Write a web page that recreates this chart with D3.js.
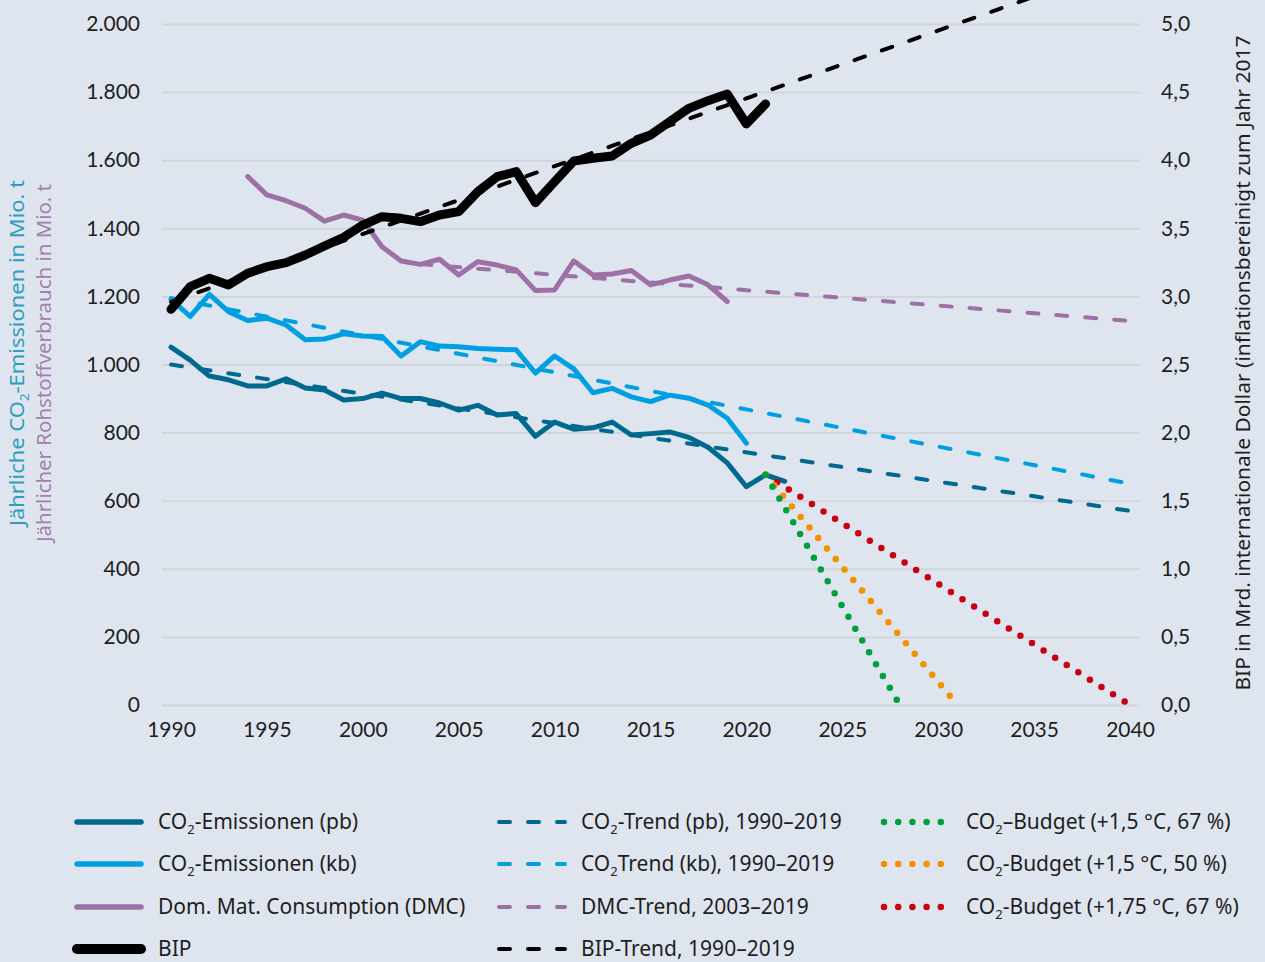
<!DOCTYPE html>
<html><head><meta charset="utf-8">
<script src="https://cdn.jsdelivr.net/npm/d3@7"></script>
<style>
html,body{margin:0;padding:0;background:#dfe5ef;}
svg{display:block;}
</style></head>
<body><svg id="c" width="1265" height="962"></svg>
<script>
// ---- data ----
const years = d3.range(1990, 2023);
const co2pb = [1051,1013,966,955,937,937,958,931,925,896,900,916,900,900,887,866,880,852,856,789,831,810,814,831,793,797,802,786,757,711,641,676,657];
const co2kbYears = d3.range(1990, 2021);
const co2kb = [1192,1141,1206,1155,1129,1136,1116,1073,1075,1090,1084,1082,1025,1067,1054,1052,1047,1045,1043,975,1025,987,917,930,905,891,910,901,881,842,769];
const dmcYears = d3.range(1994, 2020);
const dmc = [1552,1498,1481,1459,1421,1439,1424,1346,1304,1294,1309,1263,1302,1292,1278,1217,1219,1304,1263,1266,1276,1234,1248,1260,1234,1185];
const bipYears = d3.range(1990, 2022);
const bip = [2.905,3.071,3.133,3.084,3.170,3.218,3.248,3.304,3.370,3.434,3.524,3.585,3.573,3.549,3.598,3.622,3.769,3.879,3.916,3.688,3.842,3.994,4.014,4.031,4.124,4.185,4.283,4.381,4.437,4.486,4.266,4.413];

const trendPbYears = [1990, 2040], trendPb = [1000, 570];
const trendKbYears = [1990, 2040], trendKb = [1195, 650];
const trendDmcYears = [2003, 2040], trendDmc = [1295, 1128];
const trendBipYears = [1990, 2040], trendBip = [2.96, 5.45];

const budget15_67Years = [2021, 2028], budget15_67 = [676, 0];
const budget15_50Years = [2021, 2031], budget15_50 = [676, 0];
const budget175_67Years = [2021, 2040], budget175_67 = [676, 0];

const leftTicks = [0,200,400,600,800,1000,1200,1400,1600,1800,2000];
const rightTicks = [0,0.5,1,1.5,2,2.5,3,3.5,4,4.5,5];
const xTicks = [1990,1995,2000,2005,2010,2015,2020,2025,2030,2035,2040];

// ---- setup ----
const de = d3.formatLocale({decimal: ",", thousands: ".", grouping: [3], currency: ["", " €"]});
const fmtL = de.format(",.0f"), fmtR = de.format(".1f");
const svg = d3.select("#c");
const x = d3.scaleLinear().domain([1990, 2040]).range([171, 1130]);
const yL = d3.scaleLinear().domain([0, 2000]).range([705, 24]);
const yR = d3.scaleLinear().domain([0, 5]).range([705, 24]);

const C = {pb:"#00698f", kb:"#009fe3", dmc:"#9d71a6", bip:"#000000", g:"#00a03c", o:"#f39200", r:"#c8000f"};
const tickFont = "Lato, 'Noto Sans', sans-serif";
const txtFont = "'Noto Sans', 'Open Sans', sans-serif";

// grid
const grid = svg.append("g").attr("transform", "translate(162,0)")
  .call(d3.axisLeft(yL).tickValues(leftTicks).tickSize(-978).tickFormat(""));
grid.select(".domain").remove();
grid.selectAll("line").attr("stroke", "#d1d5dc").attr("stroke-width", 2);

// axes
function styleAxis(g){
  g.select(".domain").remove();
  g.selectAll("line").remove();
  g.selectAll("text").attr("font-family", tickFont).attr("font-size", 21).attr("fill", "#1e1e1e");
}
svg.append("g").attr("transform", "translate(162,0)")
  .call(d3.axisLeft(yL).tickValues(leftTicks).tickSize(0).tickPadding(22).tickFormat(fmtL)).call(styleAxis);
svg.append("g").attr("transform", "translate(1140,0)")
  .call(d3.axisRight(yR).tickValues(rightTicks).tickSize(0).tickPadding(21).tickFormat(fmtR)).call(styleAxis);
svg.append("g").attr("transform", "translate(0,705)")
  .call(d3.axisBottom(x).tickValues(xTicks).tickSize(0).tickPadding(17).tickFormat(d3.format("d"))).call(styleAxis);

// axis titles
function co2Text(sel, before, after, size){
  sel.append("tspan").text(before + "CO");
  sel.append("tspan").text("2").attr("font-size", size*0.62).attr("dy", size*0.25);
  sel.append("tspan").text(after).attr("dy", -size*0.25);
}
const t1 = svg.append("text").attr("transform", "translate(24,353) rotate(-90)")
  .attr("text-anchor", "middle").attr("font-family", txtFont).attr("font-size", 19)
  .attr("fill", "#2e9dc0").attr("textLength", 346).attr("lengthAdjust", "spacingAndGlyphs");
co2Text(t1, "Jährliche ", "-Emissionen in Mio. t", 19);
svg.append("text").attr("transform", "translate(51,363) rotate(-90)")
  .attr("text-anchor", "middle").attr("font-family", txtFont).attr("font-size", 19)
  .attr("fill", "#a47fae").attr("textLength", 358).attr("lengthAdjust", "spacingAndGlyphs")
  .text("Jährlicher Rohstoffverbrauch in Mio. t");
svg.append("text").attr("transform", "translate(1250,363) rotate(-90)")
  .attr("text-anchor", "middle").attr("font-family", txtFont).attr("font-size", 19)
  .attr("fill", "#1e1e1e").attr("textLength", 655).attr("lengthAdjust", "spacingAndGlyphs")
  .text("BIP in Mrd. internationale Dollar  (inflationsbereinigt zum Jahr 2017");

// lines
const lineL = d3.line().x(d => x(d[0])).y(d => yL(d[1]));
const lineR = d3.line().x(d => x(d[0])).y(d => yR(d[1]));
const zip = (a, b) => a.map((v, i) => [v, b[i]]);
const dash = "11 18", dots = "0 13.7";

function draw(path, data, color, w, da){
  const p = svg.append("path").datum(data).attr("d", path).attr("fill", "none")
    .attr("stroke", color).attr("stroke-width", w).attr("stroke-linejoin", "round").attr("stroke-linecap", "round");
  if (da) p.attr("stroke-dasharray", da);
  return p;
}
// trends
draw(lineL, zip(trendDmcYears, trendDmc), C.dmc, 4, dash);
draw(lineL, zip(trendKbYears, trendKb), C.kb, 4, dash);
draw(lineL, zip(trendPbYears, trendPb), C.pb, 4, dash);
// series
draw(lineL, zip(dmcYears, dmc), C.dmc, 5);
draw(lineL, zip(co2kbYears, co2kb), C.kb, 5);
draw(lineL, zip(years, co2pb), C.pb, 5);
// budgets
draw(lineL, zip(budget175_67Years, budget175_67), C.r, 6.5, dots);
draw(lineL, zip(budget15_50Years, budget15_50), C.o, 6.5, dots);
draw(lineL, zip(budget15_67Years, budget15_67), C.g, 6.5, dots);
// BIP
draw(lineR, zip(trendBipYears, trendBip), C.bip, 4, dash);
draw(lineR, zip(bipYears, bip), C.bip, 9);

// legend
const legend = [
  {col:0, row:0, color:C.pb, w:5.5, da:null, co2:true, after:"-Emissionen (pb)"},
  {col:0, row:1, color:C.kb, w:5.5, da:null, co2:true, after:"-Emissionen (kb)"},
  {col:0, row:2, color:C.dmc, w:5.5, da:null, co2:false, label:"Dom. Mat. Consumption (DMC)"},
  {col:0, row:3, color:C.bip, w:10, da:null, co2:false, label:"BIP"},
  {col:1, row:0, color:C.pb, w:4, da:dash, co2:true, after:"-Trend (pb), 1990–2019"},
  {col:1, row:1, color:C.kb, w:4, da:dash, co2:true, after:"Trend (kb), 1990–2019"},
  {col:1, row:2, color:C.dmc, w:4, da:dash, co2:false, label:"DMC-Trend, 2003–2019"},
  {col:1, row:3, color:C.bip, w:4, da:dash, co2:false, label:"BIP-Trend, 1990–2019"},
  {col:2, row:0, color:C.g, w:6.5, da:"0 14.2", co2:true, after:"–Budget (+1,5 °C, 67 %)"},
  {col:2, row:1, color:C.o, w:6.5, da:"0 14.2", co2:true, after:"-Budget (+1,5 °C, 50 %)"},
  {col:2, row:2, color:C.r, w:6.5, da:"0 14.2", co2:true, after:"-Budget (+1,75 °C, 67 %)"}
];
const colX = [[77,141,158],[499,565,581],[884,941,966]];
const rowY = [822, 864, 907, 949];
legend.forEach(d => {
  const [x0, x1, tx] = colX[d.col], yy = rowY[d.row];
  const l = svg.append("line").attr("x1", x0).attr("x2", x1).attr("y1", yy).attr("y2", yy)
    .attr("stroke", d.color).attr("stroke-width", d.w).attr("stroke-linecap", "round");
  if (d.da) l.attr("stroke-dasharray", d.da);
  const t = svg.append("text").attr("x", tx).attr("y", yy + 7).attr("font-family", txtFont)
    .attr("font-size", 21).attr("fill", "#1e1e1e");
  if (d.co2) co2Text(t, "", d.after, 21); else t.text(d.label);
});
</script></body></html>
